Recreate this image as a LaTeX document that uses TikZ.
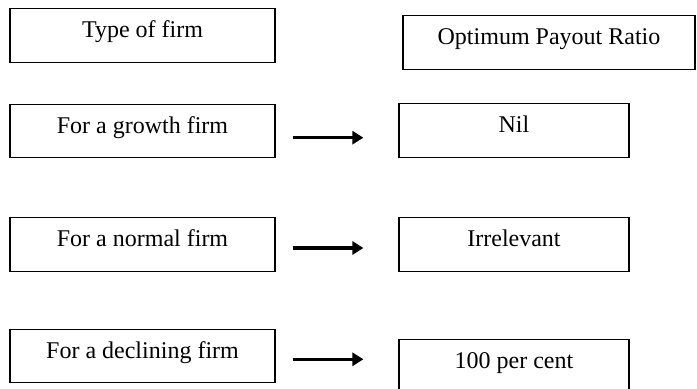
\documentclass[tikz,border=0pt]{standalone}
\usepackage{fontspec}
\setmainfont{Liberation Serif}
\usepackage{tikz}
\usetikzlibrary{arrows.meta, positioning}

\begin{document}
\begin{tikzpicture}[x=0.5pt, y=-0.5pt,
    firmbox/.style={draw, line width=0.6pt, minimum height=26.7pt, inner sep=0pt,
        text height=0.7em, text depth=0.48em, font=\fontsize{12}{14}\selectfont},
    flow/.style={-{Triangle[length=5.5pt, width=6.5pt]}, line width=1.6pt,
        shorten <=8.5pt, shorten >=17.5pt}]
    \useasboundingbox (0,0) rectangle (697,389);

    \node[firmbox, minimum width=132.5pt] (type) at (142.5,35.5) {Type of firm};
    \node[firmbox, minimum width=146pt] (ratio) at (549,42.5) {Optimum Payout Ratio};

    \node[firmbox, minimum width=132.5pt] (growth) at (142.5,131) {For a growth firm};
    \node[firmbox, minimum width=115pt] (nil) at (514,130.5) {Nil};

    \node[firmbox, minimum width=132.5pt] (normal) at (142.5,244.5) {For a normal firm};
    \node[firmbox, minimum width=115pt] (irrel) at (514,244.5) {Irrelevant};

    \node[firmbox, minimum width=132.5pt] (declining) at (142.5,356) {For a declining firm};
    \node[firmbox, minimum width=115pt] (hundred) at (514,366.5) {100 per cent};

    \draw[flow] ([yshift=-3.35pt]growth.east) -- ([yshift=-3.35pt]growth.east -| nil.west);
    \draw[flow] ([yshift=-1.75pt]normal.east) -- ([yshift=-1.75pt]normal.east -| irrel.west);
    \draw[flow] ([yshift=-1.65pt]declining.east) -- ([yshift=-1.65pt]declining.east -| hundred.west);
\end{tikzpicture}
\end{document}
